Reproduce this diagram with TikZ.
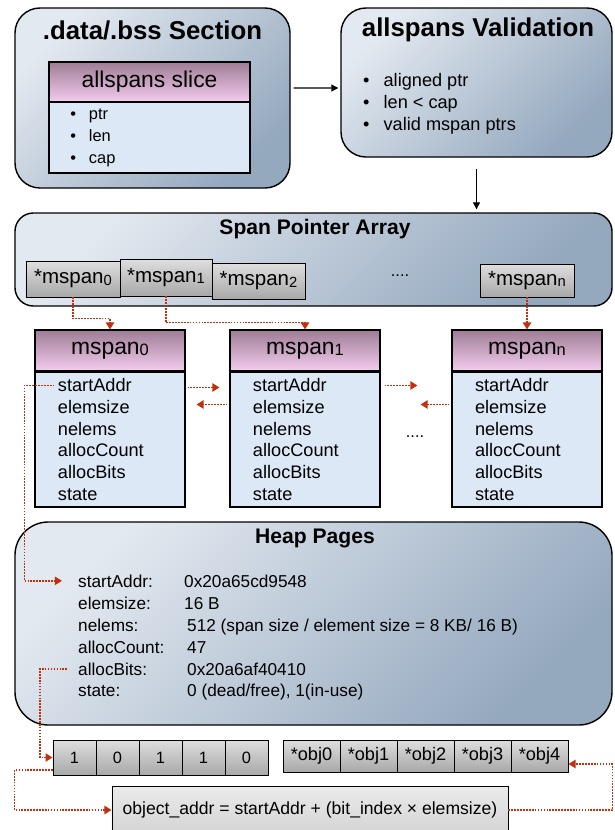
\documentclass[tikz,border=0pt]{standalone}
\usepackage{fontspec}
\setmainfont{Liberation Sans}
\usepackage{graphicx}
\usetikzlibrary{arrows.meta}

\definecolor{panellight}{HTML}{E3E9F0}
\definecolor{paneldark}{HTML}{94A8BE}
\definecolor{headtop}{HTML}{9E7D95}
\definecolor{headbottom}{HTML}{F4CCEF}
\definecolor{rowfill}{HTML}{DCE8F5}
\definecolor{celltop}{HTML}{DEDEDE}
\definecolor{cellbottom}{HTML}{A8A8A8}
\definecolor{linkred}{HTML}{C0300F}
\newcommand{\sidx}[1]{\raisebox{-0.1ex}{\scalebox{0.72}{#1}}}

\begin{document}
\begin{tikzpicture}[
    x=0.03cm, y=-0.03cm,
    panel/.style={draw, line width=1.2pt, rounded corners=0.75cm, left color=panellight, right color=paneldark, shading angle=45},
    bigtitle/.style={font=\fontsize{22}{26}\selectfont\bfseries},
    midtitle/.style={font=\fontsize{18}{22}\selectfont\bfseries},
    header/.style={draw, line width=0.9pt, top color=headtop, bottom color=headbottom, font=\fontsize{19.5}{23}\selectfont},
    rowbox/.style={draw, line width=0.9pt, fill=rowfill},
    fieldlist/.style={rowbox, minimum width=4.5cm, minimum height=4.05cm, text width=3.12cm, align=left, font=\fontsize{15.5}{18.7}\selectfont},
    bullets/.style={align=left, inner sep=0pt, font=\fontsize{15.5}{18.7}\selectfont},
    cell/.style={draw, line width=0.8pt, top color=celltop, bottom color=cellbottom, font=\fontsize{17.5}{20}\selectfont},
    bitcell/.style={cell, minimum width=1.29cm, minimum height=1.05cm, font=\fontsize{14}{17}\selectfont},
    objcell/.style={cell, minimum width=1.71cm, minimum height=0.96cm, font=\fontsize{15.5}{18}\selectfont},
    heapkey/.style={anchor=base west, inner sep=0pt, font=\fontsize{14.7}{17}\selectfont},
    dots/.style={font=\fontsize{14}{17}\selectfont},
    formulabox/.style={draw, line width=0.8pt, top color=black!8, bottom color=black!17, font=\fontsize{15}{18}\selectfont},
    flow/.style={line width=1pt, -{Triangle[length=6pt,width=6pt]}},
    link/.style={linkred, line width=1.4pt, dash pattern=on 1.4pt off 1.1pt, -{Triangle[length=6pt,width=7pt]}}
]
\useasboundingbox (0,0) rectangle (615,830);

% Sections
\node[panel, minimum width=8.25cm, minimum height=5.4cm] (data) at (152.5,98) {};
\node[bigtitle] (datatitle) at (152.5,30) {.data/.bss Section};
\node[header, minimum width=6.03cm, minimum height=1.2cm] (slicehead) at (149.5,82) {allspans slice};
\node[rowbox, minimum width=6.03cm, minimum height=2.13cm, text width=4.75cm, align=left, font=\fontsize{14}{18.7}\selectfont] (slicebody) at (149.5,137.5)
    {\textbullet\hspace{11pt}ptr\\ \textbullet\hspace{11pt}len\\ \textbullet\hspace{11pt}cap};

\node[panel, minimum width=8.13cm, minimum height=4.47cm] (valid) at (476.5,82.5) {};
\node[bigtitle] (validtitle) at (478,30) {allspans Validation};
\node[bullets, anchor=west] (checks) at (363,104)
    {\textbullet\hspace{12pt}aligned ptr\\ \textbullet\hspace{12pt}len < cap\\ \textbullet\hspace{12pt}valid mspan ptrs};

% Span pointer array
\node[panel, rounded corners=0.55cm, minimum width=17.91cm, minimum height=2.79cm] (ptrs) at (313.5,259.5) {};
\node[midtitle] (ptrstitle) at (315,229) {Span Pointer Array};
\node[cell, minimum width=2.82cm, minimum height=1.08cm] (ptr0) at (73,279) {*mspan\sidx{0}};
\node[cell, minimum width=2.76cm, minimum height=1.11cm] (ptr1) at (166,277.5) {*mspan\sidx{1}};
\node[cell, minimum width=2.79cm, minimum height=1.08cm] (ptr2) at (258.5,281) {*mspan\sidx{2}};
\node[dots] (ptrdots) at (400,276) {....};
\node[cell, minimum width=2.82cm, minimum height=0.99cm] (ptrn) at (527,280.5) {*mspan\sidx{n}};

% Spans
\node[header, minimum width=4.5cm, minimum height=1.23cm] (head0) at (110,350.5) {mspan\sidx{0}};
\node[fieldlist] (body0) at (110,439.5) {startAddr\\elemsize\\nelems\\allocCount\\allocBits\\state};
\node[header, minimum width=4.5cm, minimum height=1.23cm] (head1) at (305,350.5) {mspan\sidx{1}};
\node[fieldlist] (body1) at (305,439.5) {startAddr\\elemsize\\nelems\\allocCount\\allocBits\\state};
\node[header, minimum width=4.5cm, minimum height=1.23cm] (headn) at (527,350.5) {mspan\sidx{n}};
\node[fieldlist] (bodyn) at (527,439.5) {startAddr\\elemsize\\nelems\\allocCount\\allocBits\\state};
\node[dots] (spandots) at (415,437) {....};

% Heap pages
\node[panel, rounded corners=1cm, minimum width=17.91cm, minimum height=6.09cm] (heap) at (313.5,623.5) {};
\node[midtitle] (heaptitle) at (315,538) {Heap Pages};
\node[heapkey] (kaddr) at (78,587) {startAddr:};
\node[heapkey] (ksize) at (78,609) {elemsize:};
\node[heapkey] (kelems) at (78,631) {nelems:};
\node[heapkey] (kcount) at (78,653) {allocCount:};
\node[heapkey] (kbits) at (78,675) {allocBits:};
\node[heapkey] (kstate) at (78,696) {state:};
\node[heapkey] (vaddr) at (184,587) {0x20a65cd9548};
\node[heapkey] (vsize) at (184,609) {16 B};
\node[heapkey] (velems) at (187,631) {512 (span size / element size = 8 KB/ 16 B)};
\node[heapkey] (vcount) at (187,653) {47};
\node[heapkey] (vbits) at (187,675) {0x20a6af40410};
\node[heapkey] (vstate) at (187,696) {0 (dead/free), 1(in-use)};

% Bitmap and objects
\node[bitcell] (bit0) at (74.5,757.5) {1};
\node[bitcell] (bit1) at (117.5,757.5) {0};
\node[bitcell] (bit2) at (160.5,757.5) {1};
\node[bitcell] (bit3) at (203.5,757.5) {1};
\node[bitcell] (bit4) at (246.5,757.5) {0};
\node[objcell] (obj0) at (311.5,756) {*obj0};
\node[objcell] (obj1) at (368.5,756) {*obj1};
\node[objcell] (obj2) at (425.5,756) {*obj2};
\node[objcell] (obj3) at (482.5,756) {*obj3};
\node[objcell] (obj4) at (539.5,756) {*obj4};
\node[formulabox, minimum width=11.88cm, minimum height=1.44cm] (formula) at (310,810) {object\_addr = startAddr + (bit\_index × elemsize)};

% Flow
\draw[flow, shorten <=0.09cm, shorten >=0.06cm] ([yshift=0.3cm]data.east) -- ([yshift=-0.165cm]valid.west);
\draw[flow, shorten <=0.33cm, shorten >=0.09cm] (valid.south) -- (valid.south |- ptrs.north);

% Pointers
\draw[link] (ptr0.south) -- ++(0,21) -| (head0.north);
\draw[link] (ptr1.south) -- ++(0,26) -| (head1.north);
\draw[link] (ptrn.south) -- (headn.north);

% Span links
\draw[link, shorten <=0.06cm, shorten >=0.3cm] ([yshift=-0.48cm]body0.north east) -- ([yshift=-0.48cm]body1.north west);
\draw[link, shorten <=0.06cm, shorten >=0.33cm] ([yshift=-0.99cm]body1.north west) -- ([yshift=-0.99cm]body0.north east);
\draw[link, shorten <=0.12cm, shorten >=1.02cm] ([yshift=-0.42cm]body1.north east) -- ([yshift=-0.42cm]bodyn.north west);
\draw[link, shorten <=0.06cm, shorten >=1.2cm] ([yshift=-0.99cm]bodyn.north west) -- ([yshift=-0.99cm]body1.north east);

% Heap links
\draw[link, shorten >=0.48cm] ([xshift=0.6cm,yshift=-0.42cm]body0.north west) -- ++(-30,0) |- (kaddr.west);
\draw[link, shorten <=0.33cm] (kbits.west) -- ++(-38,0) |- (bit0.west);
\draw[link] ([yshift=-0.375cm]bit0.west) -- ++(-38,0) |- (formula.west);
\draw[link] (formula.east) -- ++(104,0) |- ([yshift=-0.24cm]obj4.east);

\end{tikzpicture}
\end{document}
